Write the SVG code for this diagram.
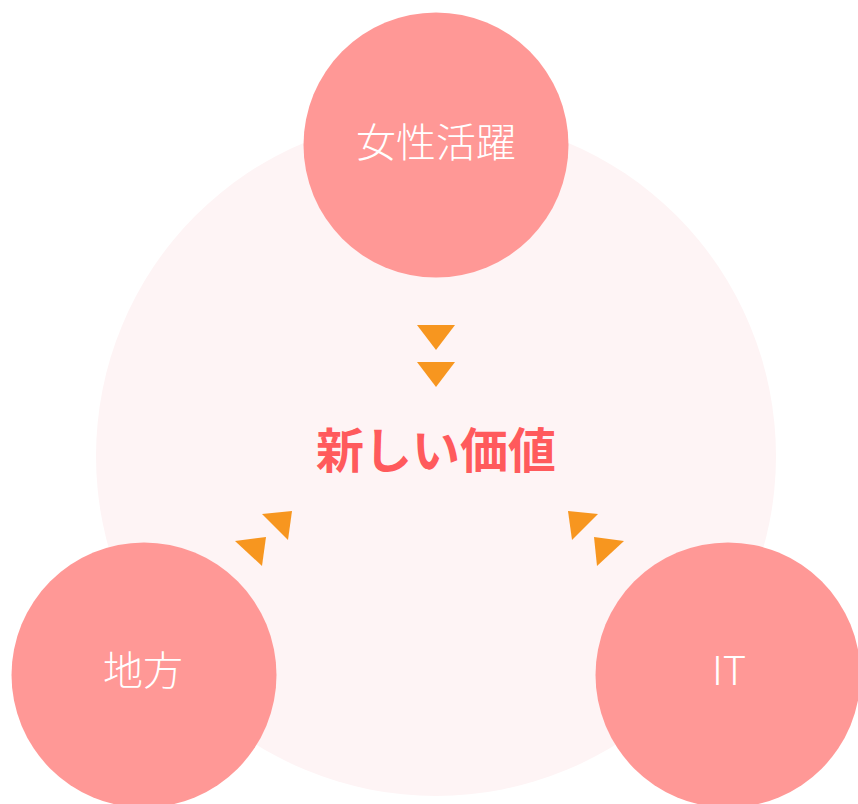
<svg xmlns="http://www.w3.org/2000/svg" width="858" height="804" viewBox="0 0 858 804">
  <style>
    .bg { fill: #fef4f5; }
    .node { fill: #ff9896; }
    .label { fill: #ffffff; font-family: "Noto Sans CJK JP", "Noto Sans", sans-serif; font-size: 40px; font-weight: 300; text-anchor: middle; dominant-baseline: central; }
    .center { fill: #ff5a5c; font-family: "Noto Sans CJK JP", "Noto Sans", sans-serif; font-size: 48px; font-weight: 700; text-anchor: middle; dominant-baseline: central; }
    .arrow { fill: #f7961f; }
  </style>
  <rect width="858" height="804" fill="#ffffff"/>
  <circle class="bg" cx="436" cy="456" r="340"/>
  <g id="connectors">
    <polygon class="arrow" points="417,325 455,325 436,350"/>
    <polygon class="arrow" points="417,362 455,362 436,387"/>
    <polygon class="arrow" points="262,514 292,511 288,540"/>
    <polygon class="arrow" points="235,541 266,537 262,566"/>
    <polygon class="arrow" points="568,511 598,514 572,540"/>
    <polygon class="arrow" points="594,537 624,541 597,566"/>
  </g>
  <g id="node-center">
    <text class="center" x="436" y="447">新しい価値</text>
  </g>
  <g id="node-women">
    <circle class="node" cx="436" cy="145" r="132.5"/>
    <text class="label" x="436" y="140">女性活躍</text>
  </g>
  <g id="node-local">
    <circle class="node" cx="144" cy="675" r="132.5"/>
    <text class="label" x="143" y="668">地方</text>
  </g>
  <g id="node-it">
    <circle class="node" cx="728" cy="675" r="132.5"/>
    <text class="label" x="729" y="668">IT</text>
  </g>
</svg>
